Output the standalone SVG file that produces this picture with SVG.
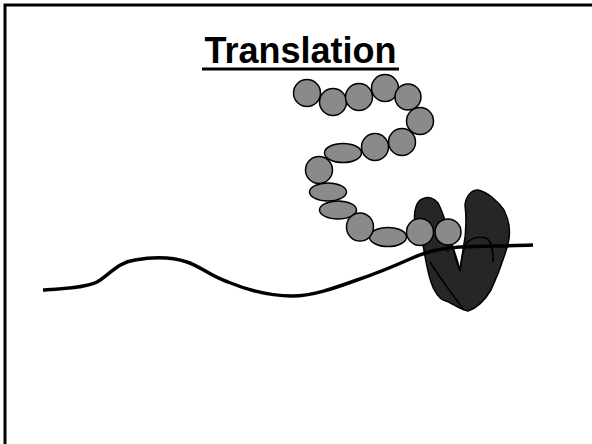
<svg xmlns="http://www.w3.org/2000/svg" width="592" height="444" viewBox="0 0 592 444">
  <style>
    .frame { fill: none; stroke: #000; stroke-width: 3; }
    .title { font-family: "Liberation Sans", Arial, sans-serif; font-weight: bold; font-size: 36px; fill: #000; }
    .bead { fill: #8a8a8a; stroke: #000; stroke-width: 1.5; }
    .ribo { fill: #262626; stroke: #000; stroke-width: 1.5; stroke-linejoin: round; }
    .edge { fill: none; stroke: #000; stroke-width: 1.5; stroke-linejoin: round; }
    .mrna { fill: none; stroke: #000; stroke-width: 3.5; stroke-linecap: butt; stroke-linejoin: round; }
  </style>

  <rect width="592" height="444" fill="#fff"/>
  <!-- slide frame: top and left edges -->
  <path class="frame" d="M5 444 V5 H592"/>

  <!-- heading -->
  <g id="title">
    <text class="title" x="300.5" y="63" text-anchor="middle">Translation</text>
    <rect x="202" y="67.5" width="197" height="3" fill="#000"/>
  </g>

  <!-- ribosome: small subunit behind, large subunit in front -->
  <g id="ribosome">
    <path class="ribo" d="M422 199 C428 196 434 198 438 203 C442 210 446 222 452 244 C455 254 458 262 460 270 L463 250 C466 236 467 222 465 205 C466 196 471 190 478 190 C487 192 497 200 504 210 C509 220 511 232 508 244 C504 258 498 275 491 290 C485 300 477 308 468 311 C460 310 452 303 446 301 C440 300 434 292 431 282 C427 270 425 256 423 245 C417 236 413 222 415 211 C416 205 418 201 422 199 Z"/>
    <!-- lower-left edge of the large subunit over the small one -->
    <path class="edge" d="M430 262 C440 278 452 294 464 310"/>
    <!-- front lobe with the central notch -->
    <path class="edge" d="M452 246 C455 256 457 264 460 271 C461 262 462 252 466 244 C470 238 478 236 486 238 C492 241 493 250 493 262"/>
  </g>

  <!-- messenger RNA strand -->
  <g id="connectors">
    <path class="mrna" d="M43 290 C60 289 85 288 97 282 C108 276 118 262 135 260 C152 257 172 257 187 262 C200 266 210 276 228 282 C245 289 270 296 292 296 C312 296 332 289 357 280 C375 274 392 267 410 259 C425 252 440 248 460 247 C480 246 505 246 533 245"/>
    <line class="edge" x1="448" y1="244" x2="448" y2="252"/>
  </g>

  <!-- growing amino-acid chain -->
  <g id="chain">
    <circle class="bead" cx="307" cy="93" r="13.5"/>
    <circle class="bead" cx="333" cy="102" r="13.5"/>
    <circle class="bead" cx="359" cy="97" r="13.5"/>
    <circle class="bead" cx="385" cy="88" r="13.5"/>
    <circle class="bead" cx="408" cy="97" r="13"/>
    <circle class="bead" cx="420" cy="121" r="13.5"/>
    <circle class="bead" cx="402" cy="142" r="13.5"/>
    <circle class="bead" cx="375" cy="147" r="13.5"/>
    <ellipse class="bead" cx="343" cy="153" rx="18.5" ry="9.5"/>
    <circle class="bead" cx="319" cy="170" r="13.5"/>
    <ellipse class="bead" cx="328" cy="192" rx="18.5" ry="9"/>
    <ellipse class="bead" cx="338" cy="210" rx="18.5" ry="9"/>
    <ellipse class="bead" cx="388" cy="237" rx="18.5" ry="9.5"/>
    <ellipse class="bead" cx="360" cy="227" rx="13.5" ry="14"/>
    <circle class="bead" cx="420" cy="232" r="13.5"/>
    <circle class="bead" cx="448" cy="232" r="13"/>
  </g>
</svg>
